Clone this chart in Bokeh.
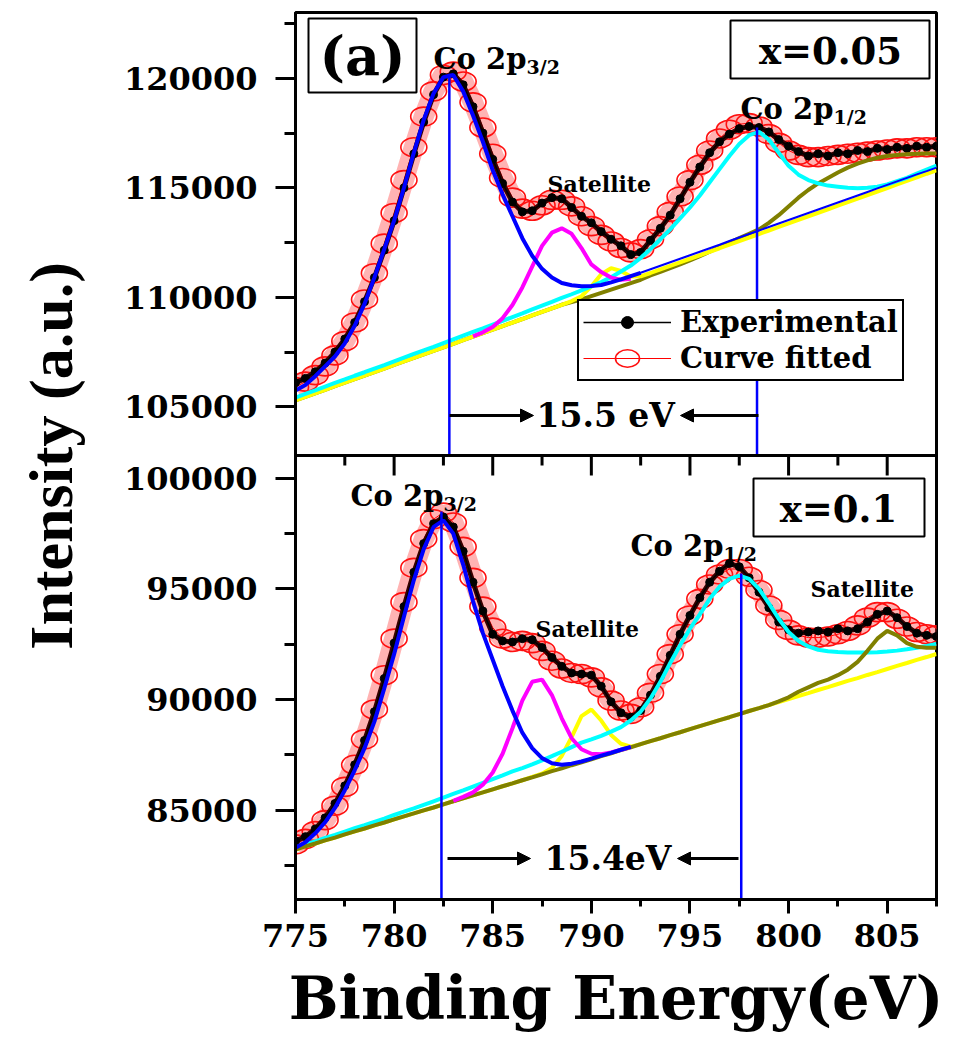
from bokeh.plotting import figure
from bokeh.models import (Range1d, FixedTicker, Span, Label, Arrow, NormalHead,
                          Legend, LegendItem, BoxAnnotation)
from bokeh.embed import file_html
from bokeh.resources import INLINE

# ---------------------------------------------------------------- data
energy = [775.0, 775.5, 776.0, 776.5, 777.0, 777.5, 778.0, 778.5, 779.0, 779.5,
          780.0, 780.5, 781.0, 781.5, 782.0, 782.5, 783.0, 783.5, 784.0, 784.5,
          785.0, 785.5, 786.0, 786.5, 787.0, 787.5, 788.0, 788.5, 789.0, 789.5,
          790.0, 790.5, 791.0, 791.5, 792.0, 792.5, 793.0, 793.5, 794.0, 794.5,
          795.0, 795.5, 796.0, 796.5, 797.0, 797.5, 798.0, 798.5, 799.0, 799.5,
          800.0, 800.5, 801.0, 801.5, 802.0, 802.5, 803.0, 803.5, 804.0, 804.5,
          805.0, 805.5, 806.0, 806.5, 807.0, 807.5]

# ---- panel (a): x = 0.05
exp_a = [106100, 106300, 106600, 107000, 107500, 108100, 108850, 109800, 110900, 112150,
         113500, 115000, 116550, 118000, 119250, 120050, 120200, 119700, 118700, 117500,
         116300, 115200, 114350, 113900, 113950, 114300, 114550, 114500, 114100, 113700,
         113400, 113000, 112650, 112350, 111950, 112050, 112600, 113150, 113750, 114500,
         115250, 115950, 116600, 117100, 117450, 117700, 117800, 117750, 117550, 117200,
         116900, 116650, 116450, 116550, 116450, 116600, 116550, 116700, 116650, 116800,
         116750, 116850, 116800, 116900, 116850, 116900]
fit_a = [105900, 106150, 106450, 106850, 107350, 108000, 108850, 109900, 111100, 112450,
         113850, 115350, 116850, 118250, 119400, 120150, 120300, 119850, 118900, 117750,
         116550, 115450, 114550, 114050, 113950, 114200, 114450, 114450, 114150, 113700,
         113250, 112850, 112550, 112250, 112050, 112200, 112650, 113250, 113900, 114600,
         115350, 116050, 116700, 117250, 117650, 117900, 117950, 117800, 117450, 117050,
         116700, 116500, 116400, 116400, 116450, 116500, 116550, 116600, 116650, 116700,
         116750, 116800, 116800, 116850, 116850, 116850]
blue_a = [105750, 106000, 106400, 106850, 107300, 107900, 108700, 109700, 110900, 112200,
          113500, 115000, 116600, 118100, 119300, 120050, 120150, 119400, 118300, 117100,
          115800, 114700, 113700, 112700, 111900, 111300, 110900, 110650, 110550, 110500,
          110520, 110560, 110680, 110820, 110970, 111120, 111280, 111440, 111600, 111760,
          111920, 112080, 112240, 112400, 112570, 112730, 112890, 113050, 113210, 113370,
          113530, 113690, 113850, 114010, 114170, 114330, 114490, 114650, 114810, 114970,
          115130, 115290, 115450, 115610, 115760, 115920]
cyan_a = [105420, 105590, 105750, 105920, 106090, 106250, 106420, 106580, 106750, 106910,
          107080, 107250, 107420, 107580, 107740, 107910, 108080, 108250, 108420, 108580,
          108750, 108920, 109100, 109270, 109450, 109620, 109790, 109970, 110140, 110320,
          110500, 110700, 110920, 111180, 111450, 111800, 112200, 112650, 113100, 113600,
          114100, 114650, 115250, 115850, 116450, 117000, 117400, 117550, 117200, 116600,
          116000, 115600, 115350, 115200, 115100, 115050, 115000, 114980, 115000, 115050,
          115150, 115300, 115450, 115650, 115830, 116010]
yellow_a = [105300, 105460, 105620, 105780, 105950, 106110, 106270, 106430, 106590, 106750,
            106920, 107080, 107240, 107400, 107560, 107720, 107880, 108050, 108210, 108370,
            108530, 108690, 108850, 109010, 109180, 109340, 109500, 109660, 109830, 110050,
            110500, 111050, 111330, 111200, 110950, 110960, 111110, 111280, 111440, 111600,
            111760, 111920, 112080, 112240, 112410, 112570, 112730, 112890, 113050, 113210,
            113380, 113540, 113700, 113860, 114020, 114180, 114340, 114510, 114670, 114830,
            114990, 115150, 115310, 115470, 115640, 115800]
olive_a = [105300, 105460, 105620, 105780, 105950, 106110, 106270, 106430, 106590, 106750,
           106920, 107080, 107240, 107400, 107560, 107720, 107880, 108050, 108210, 108370,
           108530, 108690, 108850, 109010, 109180, 109340, 109500, 109660, 109780, 109900,
           110050, 110200, 110350, 110500, 110650, 110800, 111000, 111160, 111330, 111500,
           111680, 111880, 112080, 112290, 112500, 112700, 112900, 113100, 113400, 113750,
           114150, 114550, 114900, 115200, 115450, 115700, 115920, 116100, 116250, 116370,
           116450, 116500, 116530, 116550, 116560, 116570]
mag_energy_a = [784.0, 784.5, 785.0, 785.5, 786.0, 786.5, 787.0, 787.5, 788.0, 788.5,
                789.0, 789.5, 790.0, 790.5, 791.0, 791.5, 792.0]
mag_a = [108220, 108400, 108650, 109050, 109650, 110450, 111400, 112350, 112950, 113150,
         112900, 112250, 111500, 111150, 110900, 110800, 110850]
peak_e_a = [782.8, 798.4]
peak_i_a = [120200, 117750]

# ---- panel (b): x = 0.1
exp_b = [83600, 83800, 84150, 84650, 85300, 86100, 87050, 88150, 89450, 90950,
         92550, 94200, 95750, 97050, 97950, 98250, 97800, 96700, 95300, 94000,
         92950, 92650, 92600, 92750, 92700, 92350, 91900, 91500, 91200, 91150,
         91100, 90600, 89900, 89400, 89200, 89500, 90200, 91050, 92000, 92950,
         93800, 94600, 95300, 95800, 96150, 96000, 95500, 94850, 94150, 93500,
         93150, 93000, 93050, 93100, 93050, 93200, 93100, 93200, 93500, 93850,
         94000, 93700, 93300, 93000, 92900, 92850]
fit_b = [83450, 83700, 84050, 84550, 85200, 86050, 87050, 88200, 89550, 91100,
         92750, 94400, 95950, 97250, 98150, 98450, 98000, 96900, 95500, 94200,
         93250, 92750, 92600, 92650, 92550, 92200, 91750, 91400, 91200, 91150,
         91000, 90550, 89950, 89500, 89350, 89650, 90300, 91150, 92050, 92950,
         93800, 94550, 95200, 95650, 95900, 95900, 95550, 94950, 94250, 93600,
         93150, 92900, 92800, 92800, 92850, 92950, 93100, 93350, 93700, 93950,
         93950, 93650, 93300, 93050, 92950, 92900]
blue_energy_b = [775.0, 775.5, 776.0, 776.5, 777.0, 777.5, 778.0, 778.5, 779.0, 779.5,
                 780.0, 780.5, 781.0, 781.5, 782.0, 782.5, 783.0, 783.5, 784.0, 784.5,
                 785.0, 785.5, 786.0, 786.5, 787.0, 787.5, 788.0, 788.5, 789.0, 789.5,
                 790.0, 790.5, 791.0, 791.5, 792.0]
blue_b = [83300, 83550, 83950, 84450, 85100, 85900, 86800, 87800, 89000, 90500,
          92050, 93750, 95400, 96800, 97800, 98100, 97500, 96100, 94450, 93000,
          91800, 90600, 89500, 88500, 87800, 87350, 87120, 87050, 87100, 87200,
          87330, 87460, 87590, 87730, 87860]
cyan_b = [83300, 83450, 83590, 83740, 83880, 84030, 84180, 84320, 84470, 84620,
          84780, 84930, 85080, 85240, 85400, 85560, 85730, 85890, 86060, 86230,
          86400, 86570, 86750, 86900, 87070, 87250, 87440, 87640, 87850, 88050,
          88200, 88360, 88550, 88750, 89050, 89450, 90050, 90800, 91650, 92450,
          93200, 93850, 94550, 95100, 95450, 95600, 95450, 95000, 94350, 93650,
          93050, 92650, 92400, 92250, 92180, 92150, 92130, 92120, 92120, 92140,
          92170, 92210, 92270, 92340, 92420, 92510]
yellow_b = [83220, 83360, 83490, 83630, 83760, 83900, 84040, 84170, 84310, 84440,
            84580, 84720, 84850, 84990, 85120, 85260, 85400, 85530, 85670, 85800,
            85940, 86080, 86210, 86350, 86500, 86650, 86900, 87450, 88300, 89250,
            89550, 89050, 88400, 88000, 87870, 87980, 88120, 88250, 88390, 88520,
            88660, 88800, 88930, 89070, 89200, 89340, 89480, 89610, 89750, 89880,
            90020, 90160, 90290, 90430, 90560, 90700, 90840, 90970, 91110, 91240,
            91380, 91520, 91650, 91790, 91920, 92060]
olive_b = [83220, 83360, 83490, 83630, 83760, 83900, 84040, 84170, 84310, 84440,
           84580, 84720, 84850, 84990, 85120, 85260, 85400, 85530, 85670, 85800,
           85940, 86080, 86210, 86350, 86480, 86620, 86760, 86890, 87030, 87160,
           87300, 87440, 87570, 87710, 87840, 87980, 88120, 88250, 88390, 88520,
           88660, 88800, 88930, 89070, 89200, 89340, 89480, 89610, 89750, 89920,
           90100, 90350, 90550, 90750, 90900, 91100, 91350, 91700, 92200, 92750,
           93100, 92900, 92550, 92380, 92340, 92340]
mag_energy_b = [783.0, 783.5, 784.0, 784.5, 785.0, 785.5, 786.0, 786.5, 787.0, 787.5,
                788.0, 788.5, 789.0, 789.5, 790.0, 790.5, 791.0, 791.5, 792.0]
mag_b = [85420, 85600, 85800, 86150, 86700, 87550, 88700, 89950, 90800, 90900,
         90200, 89150, 88250, 87750, 87550, 87530, 87610, 87730, 87850]
peak_e_b = [782.4, 797.6]
peak_i_b = [98500, 95700]

# axis ticks
x_major = [775, 780, 785, 790, 795, 800, 805]
x_minor = [777.5, 782.5, 787.5, 792.5, 797.5, 802.5, 807.5]
top_major = [105000, 110000, 115000, 120000]
top_minor = [107500, 112500, 117500, 122500]
bot_major = [85000, 90000, 95000, 100000]
bot_minor = [82500, 87500, 92500, 97500]

# ---------------------------------------------------------------- layout
W, H = 955, 1047
FL, FR, FT, FB, SPLIT = 295, 936, 12, 899, 455
X_LO, X_HI = 775.0, 807.5
TOP_LO, TOP_HI = 102780, 123000
BOT_LO, BOT_HI = 80960, 101030


def ex(px):
    return X_LO + (px - FL) * (X_HI - X_LO) / (FR - FL)


def ym(py):
    return H - py


def pix_top(v):
    return FT + (TOP_HI - v) * (SPLIT - FT) / (TOP_HI - TOP_LO)


def pix_bot(v):
    return SPLIT + (BOT_HI - v) * (FB - SPLIT) / (BOT_HI - BOT_LO)


top_ext_lo = TOP_HI - (TOP_HI - TOP_LO) * (FB - FT) / (SPLIT - FT)
bot_ext_hi = BOT_LO + (BOT_HI - BOT_LO) * (FB - FT) / (FB - SPLIT)

SERIF = "DejaVu Serif"

p = figure(width=W, height=H, output_backend="svg", toolbar_location=None,
           x_range=Range1d(X_LO, X_HI), y_range=Range1d(H - FB, H - FT),
           min_border_left=FL, min_border_right=W - FR,
           min_border_top=FT, min_border_bottom=H - FB)
p.extra_y_ranges = {"top": Range1d(top_ext_lo, TOP_HI),
                    "bot": Range1d(BOT_LO, bot_ext_hi)}
p.xgrid.visible = False
p.ygrid.visible = False
p.outline_line_color = "black"
p.outline_line_width = 3
p.background_fill_color = "white"
p.border_fill_color = "white"

xa = p.xaxis[0]
xa.ticker = FixedTicker(ticks=x_major, minor_ticks=x_minor)
ya = p.yaxis[0]
ymaj = [round(ym(pix_top(v)), 2) for v in top_major] + [round(ym(pix_bot(v)), 2) for v in bot_major]
ymin = [round(ym(pix_top(v)), 2) for v in top_minor] + [round(ym(pix_bot(v)), 2) for v in bot_minor]
ya.ticker = FixedTicker(ticks=ymaj, minor_ticks=ymin)
ya.major_label_overrides = {pos: str(v) for pos, v in zip(ymaj, top_major + bot_major)}
for ax in (xa, ya):
    ax.axis_line_width = 3
    ax.major_tick_line_width = 3
    ax.minor_tick_line_width = 3
    ax.major_tick_in = 0
    ax.minor_tick_in = 0
    ax.major_label_text_font = SERIF
    ax.major_label_text_font_style = "bold"
    ax.major_label_text_font_size = "32px"
    ax.major_label_text_color = "black"
    ax.axis_label_text_color = "black"
    ax.axis_label_text_font_style = "bold"
xa.major_tick_out = 14
xa.minor_tick_out = 7
xa.major_label_standoff = 10
xa.axis_label = "Binding Energy(eV)"
xa.axis_label_text_font = SERIF
xa.axis_label_text_font_size = "59px"
xa.axis_label_standoff = 14
ya.major_tick_out = 20
ya.minor_tick_out = 11
ya.major_label_standoff = 18
ya.axis_label = "Intensity (a.u.)"
ya.axis_label_text_font = "Liberation Serif"
ya.axis_label_text_font_size = "62px"
ya.axis_label_standoff = 36

# ---------------------------------------------------------------- panel (a)
R = "top"
p.line(energy, fit_a, color="#ff4040", line_width=20, line_alpha=0.4, y_range_name=R)
fit_line_a = p.line(energy, fit_a, color="red", line_width=1, y_range_name=R)
fit_pts_a = p.ellipse(energy, fit_a, width=26, height=19, width_units="screen",
                      height_units="screen", fill_color=None, line_color="#ff1010",
                      line_width=1.6, y_range_name=R)
p.line(energy, exp_a, color="#3a0000", line_width=5, y_range_name=R)
exp_line_a = p.line(energy, exp_a, color="black", line_width=1.5, y_range_name=R)
exp_pts_a = p.scatter(energy, exp_a, size=8, color="black", y_range_name=R)
p.line(energy, olive_a, color="#808000", line_width=4, y_range_name=R)
p.line(energy, yellow_a, color="#FFFF00", line_width=4, y_range_name=R)
p.line(energy, cyan_a, color="#00FFFF", line_width=4, y_range_name=R)
p.line(mag_energy_a, mag_a, color="#FF00FF", line_width=4, y_range_name=R)
p.line(energy[:36], blue_a[:36], color="#0000FF", line_width=4, y_range_name=R)
p.line(energy[34:], blue_a[34:], color="#0000FF", line_width=2, y_range_name=R)
p.segment(x0=peak_e_a, y0=peak_i_a, x1=peak_e_a, y1=[TOP_LO] * len(peak_e_a),
          color="#0000FF", line_width=2.5, y_range_name=R)

# ---------------------------------------------------------------- panel (b)
R = "bot"
p.line(energy, fit_b, color="#ff4040", line_width=20, line_alpha=0.4, y_range_name=R)
p.line(energy, fit_b, color="red", line_width=1, y_range_name=R)
p.ellipse(energy, fit_b, width=26, height=19, width_units="screen",
          height_units="screen", fill_color=None, line_color="#ff1010",
          line_width=1.6, y_range_name=R)
p.line(energy, exp_b, color="#3a0000", line_width=5, y_range_name=R)
p.line(energy, exp_b, color="black", line_width=1.5, y_range_name=R)
p.scatter(energy, exp_b, size=8, color="black", y_range_name=R)
p.line(energy, yellow_b, color="#FFFF00", line_width=4, y_range_name=R)
p.line(energy, cyan_b, color="#00FFFF", line_width=4, y_range_name=R)
p.line(energy, olive_b, color="#808000", line_width=4, y_range_name=R)
p.line(mag_energy_b, mag_b, color="#FF00FF", line_width=4, y_range_name=R)
p.line(blue_energy_b, blue_b, color="#0000FF", line_width=4, y_range_name=R)
p.segment(x0=peak_e_b, y0=peak_i_b, x1=peak_e_b, y1=[BOT_LO] * len(peak_e_b),
          color="#0000FF", line_width=2.5, y_range_name=R)

# ---------------------------------------------------------------- frame pieces
p.add_layout(Span(location=ym(SPLIT), dimension="width", line_color="black", line_width=3))
p.segment(x0=x_major, y0=[ym(SPLIT)] * len(x_major), x1=x_major,
          y1=[ym(SPLIT + 20)] * len(x_major), color="black", line_width=3)
p.segment(x0=x_minor, y0=[ym(SPLIT)] * len(x_minor), x1=x_minor,
          y1=[ym(SPLIT + 10)] * len(x_minor), color="black", line_width=3)

for (l, t, r, b) in [(308, 18, 416, 92), (730, 20, 929, 78), (753, 478, 924, 536)]:
    p.add_layout(BoxAnnotation(left=ex(l), right=ex(r), top=ym(t), bottom=ym(b),
                               fill_alpha=0, line_color="black", line_alpha=1,
                               line_width=2))


def lab(text, px, py, size, align="left", baseline="alphabetic"):
    p.add_layout(Label(x=ex(px), y=ym(py), text=text, text_font=SERIF,
                       text_font_style="bold", text_font_size=f"{size}px",
                       text_align=align, text_baseline=baseline, text_color="black"))


lab("(a)", 362, 55, 54, align="center", baseline="middle")
lab("x=0.05", 830, 50, 37, align="center", baseline="middle")
lab("x=0.1", 838, 508, 37, align="center", baseline="middle")

CO_W = 93
for (px, py, sub) in [(433, 58, "3/2"), (740, 108, "1/2"), (350, 495, "3/2"), (630, 545, "1/2")]:
    lab("Co 2p", px, py, 29)
    lab(sub, px + CO_W, py + 8, 19)

lab("Satellite", 547, 183, 22)
lab("Satellite", 535, 628, 22)
lab("Satellite", 810, 588, 22)

lab("15.5 eV", 536, 415, 33, baseline="middle")
lab("15.4eV", 544, 858, 33, baseline="middle")

for (x0, x1, py) in [(449, 533, 415), (758, 680, 415), (447, 530, 858), (738, 677, 858)]:
    p.add_layout(Arrow(x_start=ex(x0), y_start=ym(py), x_end=ex(x1), y_end=ym(py),
                       line_color="black", line_width=3,
                       end=NormalHead(size=13, fill_color="black", line_color="black")))

# ---------------------------------------------------------------- legend
legend = Legend(items=[LegendItem(label="Experimental", renderers=[exp_line_a, exp_pts_a]),
                       LegendItem(label="Curve fitted", renderers=[fit_line_a, fit_pts_a])],
                location=(577 - FL, FB - 381))
legend.label_text_font = SERIF
legend.label_text_font_style = "bold"
legend.label_text_font_size = "29px"
legend.label_text_color = "black"
legend.glyph_width = 88
legend.glyph_height = 30
legend.label_height = 30
legend.label_standoff = 9
legend.padding = 4
legend.spacing = 2
legend.margin = 0
legend.border_line_color = "black"
legend.border_line_width = 2
legend.border_line_alpha = 1
legend.background_fill_alpha = 1
p.add_layout(legend)

open("out.html", "w").write(file_html(p, INLINE))
